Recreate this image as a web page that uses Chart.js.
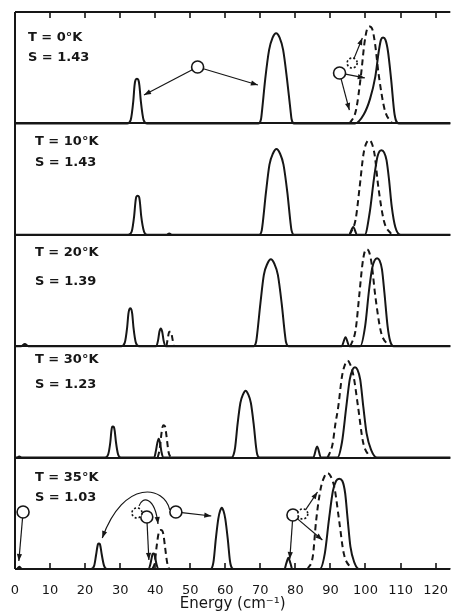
<!DOCTYPE html>
<html>
<head>
<meta charset="utf-8">
<title>Energy spectra</title>
<script src="https://cdn.jsdelivr.net/npm/chart.js@4.4.1/dist/chart.umd.min.js"></script>
<style>
    html, body { margin: 0; padding: 0; background: #fff; }
    #wrap { position: relative; width: 454px; height: 613px; }
</style>
</head>
<body>
<div id="wrap"><canvas id="spectraChart" width="454" height="613"></canvas></div>
<script>
/* ===================================
   Spectra at five temperatures
   one stacked panel per temperature
   =================================== */

// energy axis ticks (cm-1)
const energyTicks = [0, 10, 20, 30, 40, 50, 60, 70, 80, 90, 100, 110, 120];

// panel captions, top to bottom
const tempLabels = ['T = 0°K', 'T = 10°K', 'T = 20°K', 'T = 30°K', 'T = 35°K'];
const sLabels = ['S = 1.43', 'S = 1.43', 'S = 1.39', 'S = 1.23', 'S = 1.03'];

// solid traces: [energy, intensity as % of panel height]
const solid0K = [
    [0, 0],
    [32, 0], [33, 3], [33.75, 20], [34.1, 34], [34.4, 39], [34.8, 40], [35.2, 39], [35.5, 34], [35.9, 20], [36.7, 3], [37.7, 0],
    [69.4, 0], [70.2, 4], [70.5, 12], [71.4, 40], [72.5, 66], [73.5, 77], [74.5, 81], [75.5, 77], [76.5, 66], [77.6, 40], [78.6, 12], [78.9, 4], [79.6, 0],
    [97, 0], [99.5, 8], [101.3, 22], [102.8, 42], [103.8, 65], [104.4, 75], [105, 77], [105.7, 75], [106.4, 65], [107.3, 40], [108.3, 8], [109.5, 0],
    [124.5, 0]
];
const solid10K = [
    [0, 0],
    [32.3, 0], [33.3, 3], [34, 17], [34.35, 29], [34.6, 34], [35, 35], [35.4, 34], [35.65, 29], [36, 17], [36.8, 3], [37.7, 0],
    [43.3, 0], [44, 1.2], [44.7, 0],
    [69.7, 0], [70.4, 4], [70.7, 11], [71.6, 38], [72.6, 63], [73.6, 73], [74.6, 77], [75.6, 73], [76.6, 63], [77.7, 38], [78.6, 11], [78.9, 4], [79.7, 0],
    [95.3, 0], [96.5, 7], [97.6, 0],
    [99.8, 0], [101.2, 20], [102.4, 50], [103.4, 70], [104, 75], [104.6, 76], [105.3, 74], [106, 67], [106.7, 50], [107.5, 25], [108.5, 7], [110, 0],
    [124.5, 0]
];
const solid20K = [
    [0, 0], [1.8, 0], [2.8, 2], [3.8, 0],
    [30.3, 0], [31.3, 3], [32, 17], [32.35, 29], [32.6, 33], [32.9, 34], [33.2, 33], [33.45, 29], [33.8, 17], [34.5, 3], [35.4, 0],
    [40.3, 0], [40.8, 5], [41.2, 13], [41.6, 16], [42, 13], [42.4, 5], [43, 0],
    [68.1, 0], [68.8, 4], [69.1, 11], [70, 38], [71, 64], [72, 74], [73, 78], [74, 74], [75, 64], [76.1, 38], [77, 11], [77.3, 4], [78.1, 0],
    [93.2, 0], [94.3, 8], [95.4, 0],
    [98.5, 0], [99.9, 18], [101, 50], [101.9, 70], [102.6, 77], [103.3, 79], [104, 77], [104.7, 69], [105.4, 48], [106.3, 18], [107, 5], [108, 0],
    [124.5, 0]
];
const solid30K = [
    [0, 0], [0.5, 0], [1.2, 1], [2, 0],
    [25.7, 0], [26.6, 3], [27.2, 14], [27.5, 24], [27.7, 27.5], [27.95, 28], [28.2, 27.5], [28.45, 24], [28.8, 14], [29.4, 3], [30.2, 0],
    [39.7, 0], [40.2, 6], [40.6, 13], [41, 17], [41.4, 13], [41.8, 5], [42.3, 0],
    [61.8, 0], [62.4, 3], [62.8, 9], [63.5, 30], [64.3, 49], [65.1, 57], [65.8, 60], [66.5, 57], [67.3, 49], [68.1, 30], [68.8, 9], [69.1, 3], [69.8, 0],
    [85.1, 0], [86.2, 10], [87.3, 0],
    [92, 0], [93.3, 14], [94.5, 45], [95.5, 70], [96.3, 79], [97, 81], [97.7, 79], [98.5, 70], [99.4, 45], [100.3, 22], [101.6, 7], [103.3, 0],
    [124.5, 0]
];
const solid35K = [
    [0, 0], [0.5, 0], [1.2, 2], [2, 0],
    [21.7, 0], [22.6, 3], [23.15, 13], [23.5, 20], [23.7, 22.5], [23.95, 23], [24.2, 22.5], [24.4, 20], [24.75, 13], [25.4, 3], [26.2, 0],
    [38.1, 0], [38.6, 4], [39, 10], [39.25, 13.5], [39.5, 14], [39.75, 13.5], [40, 10], [40.4, 4], [40.9, 0],
    [55.8, 0], [56.4, 3], [56.7, 8], [57.3, 27], [58, 45], [58.5, 52], [59, 55], [59.5, 52], [60, 45], [60.7, 27], [61.3, 8], [61.6, 3], [62.3, 0],
    [76.9, 0], [77.4, 5], [78, 10], [78.6, 5], [79.1, 0],
    [87, 0], [88.4, 14], [89.6, 45], [90.7, 70], [91.6, 79], [92.5, 81], [93.4, 79], [94.2, 68], [94.9, 45], [95.7, 20], [96.8, 6], [98.2, 0],
    [124.5, 0]
];

// dashed traces: one array per peak
const dashed0K = [
    [[95.5, 0], [97.3, 12], [98.7, 43], [99.7, 72], [100.4, 84], [101.2, 87], [102, 84], [102.7, 72], [103.8, 43], [105.5, 12], [107.6, 0]]
];
const dashed10K = [
    [[95.5, 0], [97.2, 14], [98.3, 42], [99.4, 72], [100.2, 82], [101, 85], [101.8, 82], [102.6, 72], [103.7, 42], [105.3, 12], [107.5, 0]]
];
const dashed20K = [
    [[43.2, 0], [43.6, 7], [44, 13], [44.5, 13], [44.9, 7], [45.3, 0]],
    [[95.7, 0], [97.2, 15], [98.2, 45], [99.1, 73], [99.7, 84], [100.4, 87], [101.1, 84], [101.8, 73], [102.8, 45], [104.4, 13], [106.7, 0]]
];
const dashed30K = [
    [[40.7, 0], [41.3, 8], [41.8, 22], [42.1, 27.5], [42.4, 29], [42.8, 28], [43.2, 20], [43.8, 5], [44.5, 0]],
    [[89.2, 0], [90.6, 12], [91.4, 30], [92.2, 45], [93.3, 73], [94.2, 84], [94.9, 87], [95.6, 84], [96.6, 73], [97.9, 45], [99.3, 14], [101.3, 0]]
];
const dashed35K = [
    [[39.2, 0], [39.9, 6], [40.4, 20], [40.9, 31], [41.2, 34.5], [41.6, 35], [42, 34.5], [42.35, 31], [42.8, 20], [43.4, 6], [44, 0]],
    [[83.5, 0], [85, 12], [85.9, 43], [87.2, 72], [88.3, 83], [89.2, 86], [90.1, 83], [91.2, 72], [92.5, 43], [93.8, 14], [96, 0]]
];

const solidTraces = [solid0K, solid10K, solid20K, solid30K, solid35K];
const dashedTraces = [dashed0K, dashed10K, dashed20K, dashed30K, dashed35K];

// assignment sketches: circles and arrows (panel, energy, intensity)
const circles = [
    { p: 0, e: 52.1, v: 50.6 }, { p: 0, e: 92.6, v: 45.2 }, { p: 0, e: 96.2, v: 54.2, dashed: true },
    { p: 4, e: 2.3, v: 51.2 }, { p: 4, e: 45.9, v: 51.2 }, { p: 4, e: 37.6, v: 46.7 },
    { p: 4, e: 34.8, v: 50.3, dashed: true }, { p: 4, e: 79.3, v: 48.5 }, { p: 4, e: 82.1, v: 49.4, dashed: true }
];
const arrows = [
    { p: 0, from: [52.1, 50.6], to: [36.8, 25.5] }, { p: 0, from: [52.1, 50.6], to: [69.3, 34.5] },
    { p: 0, from: [92.6, 45.2], to: [95.4, 12] }, { p: 0, from: [92.6, 45.2], to: [99.8, 40.8] },
    { p: 0, from: [96.2, 54.2], to: [99.1, 76.7], r: 5 },
    { p: 4, from: [2.3, 51.2], to: [1.1, 7.2] }, { p: 4, from: [45.9, 51.2], to: [56.0, 47.6] },
    { p: 4, from: [37.6, 46.7], to: [38.2, 8.1] },
    { p: 4, from: [79.3, 48.5], to: [78.4, 9] }, { p: 4, from: [79.3, 48.5], to: [87.7, 26] },
    { p: 4, from: [82.1, 49.4], to: [86.3, 69.1], r: 5 }
];
const curvedArrows = [
    { p: 4, pts: [[44.15, 53], [42.7, 74.5], [31.1, 81.7], [24.9, 27.8]] },
    { p: 4, pts: [[35.4, 56.6], [36.2, 65.5], [39.9, 65.5], [40.8, 40.4]] }
];

const INK = '#161616';
const PANELS = 5;
const FONT = 'DejaVu Sans';

// caption placement, in % of panel height / energy units
const captionLeft = [3.7, 5.7, 5.7, 5.7, 5.7];
const captionRowT = [76.7, 83.3, 83.7, 87.7, 81.7];
const captionRowS = [58.7, 64.5, 57.6, 65.2, 63.7];

function toPoints(trace, panel) {
    const base = PANELS - 1 - panel;
    return trace.map(([e, v]) => ({ x: e, y: base + v / 100 }));
}

function joinPeaks(peaks, panel) {
    const out = [];
    peaks.forEach((pk, i) => {
        if (i > 0) {
            const prev = peaks[i - 1];
            out.push({ x: (prev[prev.length - 1][0] + pk[0][0]) / 2, y: null });
        }
        out.push(...toPoints(pk, panel));
    });
    return out;
}

const datasets = [];
solidTraces.forEach((trace, i) => {
    datasets.push({ data: toPoints(trace, i), borderColor: INK, borderWidth: 2 });
});
dashedTraces.forEach((peaks, i) => {
    datasets.push({ data: joinPeaks(peaks, i), borderColor: INK, borderWidth: 2, borderDash: [6, 4] });
});

function drawArrowHead(ctx, x0, y0, x1, y1) {
    const ang = Math.atan2(y1 - y0, x1 - x0);
    const len = 7, half = 2.6;
    ctx.beginPath();
    ctx.moveTo(x1, y1);
    ctx.lineTo(x1 - len * Math.cos(ang) + half * Math.sin(ang), y1 - len * Math.sin(ang) - half * Math.cos(ang));
    ctx.lineTo(x1 - len * Math.cos(ang) - half * Math.sin(ang), y1 - len * Math.sin(ang) + half * Math.cos(ang));
    ctx.closePath();
    ctx.fill();
}

const framePlugin = {
    id: 'panelFrame',
    afterDatasetsDraw(chart) {
        const { ctx, chartArea: a, scales: { x, y } } = chart;
        const px = e => x.getPixelForValue(e);
        const py = (p, v) => y.getPixelForValue(PANELS - 1 - p + v / 100);

        ctx.save();
        ctx.strokeStyle = INK;
        ctx.fillStyle = INK;

        // panel borders
        ctx.lineWidth = 2;
        ctx.beginPath();
        ctx.moveTo(a.left, a.top);
        ctx.lineTo(a.left, a.bottom);
        for (let k = 0; k <= PANELS; k++) {
            const yy = Math.round(y.getPixelForValue(k));
            ctx.moveTo(a.left, yy);
            ctx.lineTo(a.right, yy);
        }
        ctx.stroke();

        // inward tick marks on top and bottom
        ctx.lineWidth = 1.6;
        ctx.beginPath();
        energyTicks.forEach(v => {
            const xx = Math.round(px(v));
            ctx.moveTo(xx, a.top);
            ctx.lineTo(xx, a.top + 6);
            ctx.moveTo(xx, a.bottom);
            ctx.lineTo(xx, a.bottom - 6);
        });
        ctx.stroke();

        // captions
        ctx.font = `bold 13px "${FONT}"`;
        ctx.textAlign = 'left';
        ctx.textBaseline = 'middle';
        tempLabels.forEach((t, i) => {
            ctx.fillText(t, px(captionLeft[i]), py(i, captionRowT[i]));
            ctx.fillText(sLabels[i], px(captionLeft[i]), py(i, captionRowS[i]));
        });

        // arrows
        ctx.lineWidth = 1.2;
        arrows.forEach(ar => {
            const x0 = px(ar.from[0]), y0 = py(ar.p, ar.from[1]);
            const x1 = px(ar.to[0]), y1 = py(ar.p, ar.to[1]);
            const r = ar.r || 6;
            const d = Math.hypot(x1 - x0, y1 - y0);
            const sx = x0 + (x1 - x0) * r / d, sy = y0 + (y1 - y0) * r / d;
            ctx.beginPath();
            ctx.moveTo(sx, sy);
            ctx.lineTo(x1, y1);
            ctx.stroke();
            drawArrowHead(ctx, sx, sy, x1, y1);
        });
        curvedArrows.forEach(c => {
            const p = c.pts.map(([e, v]) => [px(e), py(c.p, v)]);
            ctx.beginPath();
            ctx.moveTo(p[0][0], p[0][1]);
            ctx.bezierCurveTo(p[1][0], p[1][1], p[2][0], p[2][1], p[3][0], p[3][1]);
            ctx.stroke();
            drawArrowHead(ctx, p[2][0], p[2][1], p[3][0], p[3][1]);
        });

        // circles
        circles.forEach(c => {
            ctx.beginPath();
            ctx.arc(px(c.e), py(c.p, c.v), c.dashed ? 5 : 6, 0, Math.PI * 2);
            ctx.fillStyle = '#fff';
            ctx.fill();
            ctx.lineWidth = 1.6;
            ctx.setLineDash(c.dashed ? [2, 2] : []);
            ctx.stroke();
            ctx.setLineDash([]);
        });

        ctx.restore();
    }
};

new Chart(document.getElementById('spectraChart'), {
    type: 'line',
    data: { datasets },
    options: {
        responsive: false,
        animation: false,
        devicePixelRatio: 1,
        layout: { padding: { left: 15, top: 12, right: 0, bottom: 0 } },
        plugins: {
            legend: { display: false },
            tooltip: { enabled: false }
        },
        elements: {
            point: { radius: 0 },
            line: { cubicInterpolationMode: 'monotone', fill: false }
        },
        scales: {
            x: {
                type: 'linear',
                min: 0,
                max: 124.2,
                afterBuildTicks: s => { s.ticks = energyTicks.map(v => ({ value: v })); },
                afterFit: s => { s.height = 44; },
                grid: { display: false },
                border: { display: false },
                ticks: {
                    color: INK,
                    autoSkip: false,
                    maxRotation: 0,
                    padding: 6,
                    font: { family: FONT, size: 13 }
                },
                title: {
                    display: true,
                    text: 'Energy (cm⁻¹)',
                    color: INK,
                    font: { family: FONT, size: 15 },
                    padding: { top: 0, bottom: 0 }
                }
            },
            y: { display: false, min: 0, max: PANELS }
        }
    },
    plugins: [framePlugin]
});
</script>
</body>
</html>
